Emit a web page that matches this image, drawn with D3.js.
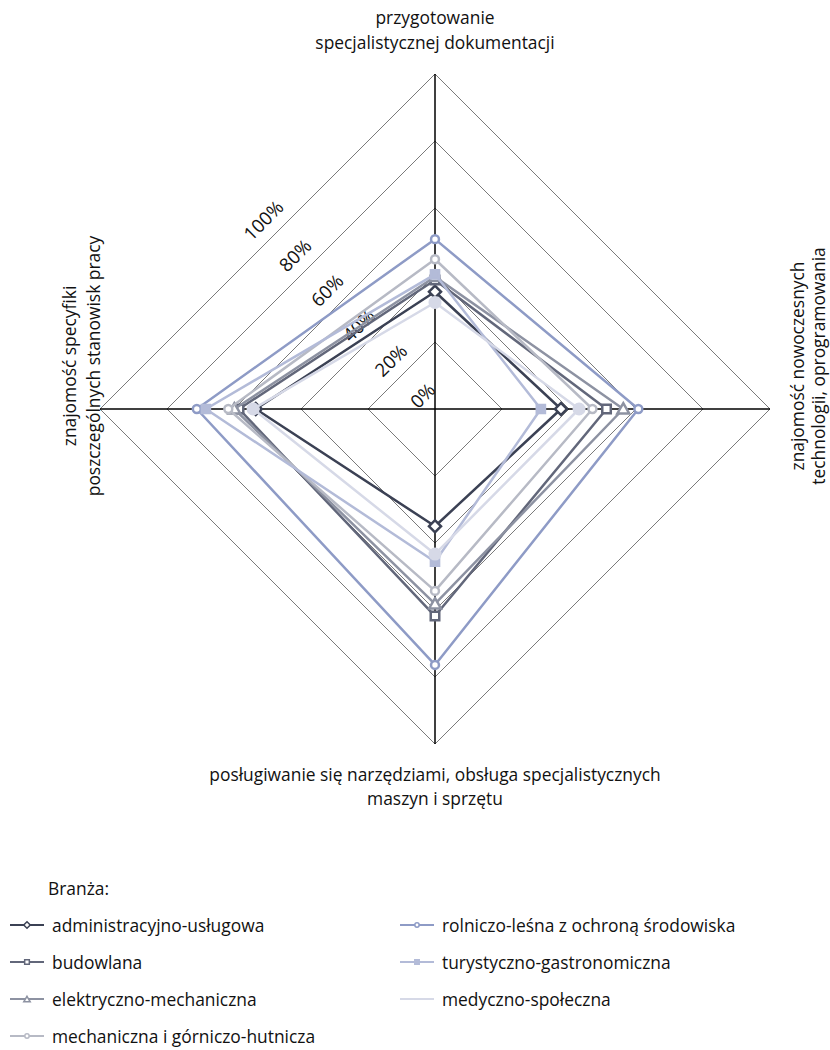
<!DOCTYPE html>
<html><head><meta charset="utf-8">
<script src="https://cdn.jsdelivr.net/npm/d3@7"></script>
<style>
body{margin:0;background:#fff;}
svg{font-family:"Open Sans",sans-serif;}
</style></head>
<body><svg id="c" width="830" height="1050"></svg>
<script>
const axes = [
  ["przygotowanie","specjalistycznej dokumentacji"],
  ["znajomość nowoczesnych","technologii, oprogramowania"],
  ["posługiwanie się narzędziami, obsługa specjalistycznych","maszyn i sprzętu"],
  ["znajomość specyfiki","poszczególnych stanowisk pracy"]
];
const ticks = [0,20,40,60,80,100];
const tickLabels = ["0%","20%","40%","60%","80%","100%"];
const seriesNames = ["administracyjno-usługowa","budowlana","elektryczno-mechaniczna","mechaniczna i górniczo-hutnicza","rolniczo-leśna z ochroną środowiska","turystyczno-gastronomiczna","medyczno-społeczna"];
// values: [top, right, bottom, left]
const administracyjno = [35.0,37.6,35.0,53.5];
const budowlana = [38.5,51.2,61.8,58.5];
const elektryczno = [39.5,56.2,58.2,59.9];
const mechaniczna = [44.7,47.0,54.3,61.7];
const rolniczo = [50.7,60.7,76.4,71.1];
const turystyczno = [40.2,31.6,45.6,68.4];
const medyczno = [31.8,43.0,43.3,54.3];
const seriesValues = [administracyjno,budowlana,elektryczno,mechaniczna,rolniczo,turystyczno,medyczno];
const colors = ["#3b4154","#62677a","#8d92a2","#b7bac5","#8e9bc6","#b3bbd8","#d6d9e7"];
const markers = ["diamond","square","triangle","circle","circle","fsquare","fcircle"];

const svg = d3.select("#c");
const cx = 435, cy = 409;
const r = d3.scaleLinear().domain([0,100]).range([0,335]);
const ang = i => -Math.PI/2 + i*Math.PI/2;
const pt = (i,v) => [cx + r(v)*Math.cos(ang(i)), cy + r(v)*Math.sin(ang(i))];

const g = svg.append("g");
ticks.filter(t=>t>0).forEach(t=>{
  g.append("path")
   .attr("d", d3.line()(d3.range(4).map(i=>pt(i,t))) + "Z")
   .attr("fill","none").attr("stroke","#7a7a7a").attr("stroke-width",1);
});
d3.range(4).forEach(i=>{
  const p = pt(i,100);
  g.append("line").attr("x1",cx).attr("y1",cy).attr("x2",p[0]).attr("y2",p[1])
   .attr("stroke","#000").attr("stroke-width",1.5);
});
const diagA = -Math.PI*0.735;
ticks.forEach((t,k)=>{
  const d = r(t)/Math.SQRT2 + 19;
  const x = cx + d*Math.cos(diagA), y = cy + d*Math.sin(diagA);
  g.append("text").attr("transform",`translate(${x},${y}) rotate(-45)`)
   .attr("text-anchor","middle").attr("dominant-baseline","central")
   .attr("font-size",18.5).attr("fill","#111").text(tickLabels[k]);
});

function drawMarker(parent, type, color, x, y, s){
  let el;
  if(type==="diamond"){
    el = parent.append("path").attr("d",d3.symbol(d3.symbolSquare).size(s*s*0.6)())
      .attr("transform",`translate(${x},${y}) rotate(45)`).attr("fill","#fff").attr("stroke",color);
  } else if(type==="square"){
    el = parent.append("path").attr("d",d3.symbol(d3.symbolSquare).size(s*s*0.6)())
      .attr("transform",`translate(${x},${y})`).attr("fill","#fff").attr("stroke",color);
  } else if(type==="triangle"){
    el = parent.append("path").attr("d",d3.symbol(d3.symbolTriangle).size(s*s*0.5)())
      .attr("transform",`translate(${x},${y+1})`).attr("fill","#fff").attr("stroke",color);
  } else if(type==="circle"){
    el = parent.append("circle").attr("cx",x).attr("cy",y).attr("r",s*0.36)
      .attr("fill","#fff").attr("stroke",color);
  } else if(type==="fsquare"){
    el = parent.append("path").attr("d",d3.symbol(d3.symbolSquare).size(s*s*0.55)())
      .attr("transform",`translate(${x},${y})`).attr("fill",color).attr("stroke",color);
  } else {
    el = parent.append("circle").attr("cx",x).attr("cy",y).attr("r",s*0.48)
      .attr("fill",color).attr("stroke",color);
  }
  return el;
}

const lineGen = d3.line();
seriesValues.forEach((vals,si)=>{
  const pts = vals.map((v,i)=>pt(i,v));
  const sg = g.append("g");
  sg.append("path").attr("d", lineGen(pts)+"Z").attr("fill","none")
    .attr("stroke",colors[si]).attr("stroke-width",2.5).attr("stroke-linejoin","round");
  pts.forEach(p=>{
    drawMarker(sg, markers[si], colors[si], p[0], p[1], 11).attr("stroke-width",2.5);
  });
});

const fs = 17.4;
const lab = svg.append("g").attr("font-size",fs).attr("fill","#111");
lab.append("text").attr("x",cx).attr("y",24).attr("text-anchor","middle").text(axes[0][0]);
lab.append("text").attr("x",cx).attr("y",49).attr("text-anchor","middle").text(axes[0][1]);
lab.append("text").attr("x",cx).attr("y",781).attr("text-anchor","middle").text(axes[2][0]);
lab.append("text").attr("x",cx).attr("y",805).attr("text-anchor","middle").text(axes[2][1]);
lab.append("text").attr("transform","translate(76,366) rotate(-90)").attr("text-anchor","middle").text(axes[3][0]);
lab.append("text").attr("transform","translate(100,366) rotate(-90)").attr("text-anchor","middle").text(axes[3][1]);
lab.append("text").attr("transform","translate(804,366) rotate(-90)").attr("text-anchor","middle").text(axes[1][0]);
lab.append("text").attr("transform","translate(825,366) rotate(-90)").attr("text-anchor","middle").text(axes[1][1]);

const leg = svg.append("g").attr("font-size",fs).attr("fill","#111");
leg.append("text").attr("x",48).attr("y",895).text("Branża:");
const legPos = [[10,925],[10,962],[10,999],[10,1036],[400,925],[400,962],[400,999]];
seriesNames.forEach((n,i)=>{
  const [x,y] = legPos[i];
  const lg = leg.append("g");
  lg.append("line").attr("x1",x).attr("x2",x+34).attr("y1",y).attr("y2",y)
    .attr("stroke",colors[i]).attr("stroke-width",2.2);
  const mk = markers[i];
  drawMarker(lg, mk, colors[i], x+17, y, mk==="fcircle"?0:6).attr("stroke-width",1.5);
  lg.append("text").attr("x",x+42).attr("y",y).attr("dominant-baseline","central").text(n);
});
</script></body></html>
